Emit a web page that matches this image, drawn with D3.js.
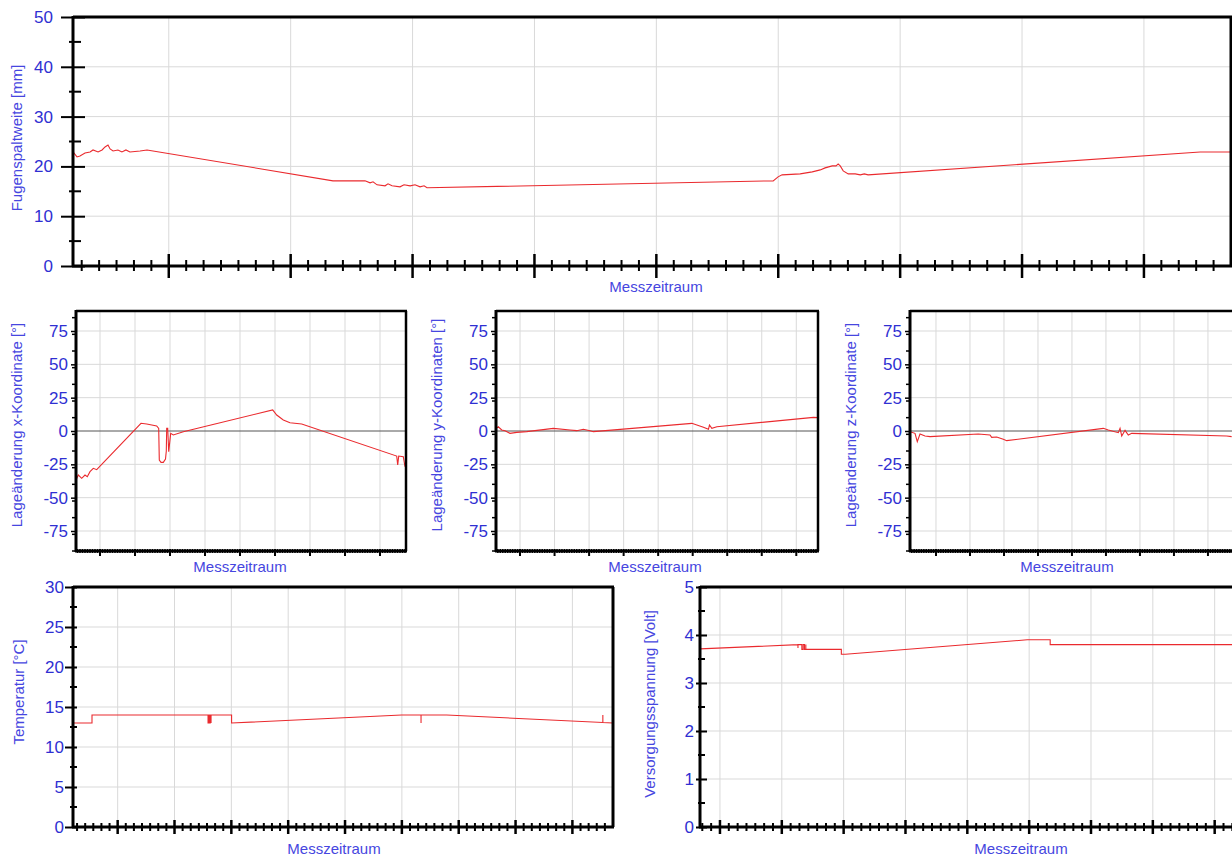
<!DOCTYPE html>
<html>
<head>
<meta charset="utf-8">
<script src="https://cdn.jsdelivr.net/npm/d3@7"></script>
<style>
body { margin: 0; background: #fff; }
svg { display: block; font-family: "Liberation Sans", Arial, sans-serif; }
</style>
</head>
<body>
<svg id="chart"></svg>
<script>
// Zeitachse in Tagen, t = 0 am ersten Hauptstrich (Wochenraster)
let gapTime = [-5.5, -5.27, -5.1, -4.81, -4.52, -4.35, -4.06, -3.83, -3.66, -3.49, -3.37, -3.2, -2.92, -2.69, -2.46, -2.23, -1.65, -1.25,
    9.43, 11.27, 11.56, 11.73, 11.96, 12.42, 12.59, 12.82, 13.28, 13.51, 13.86, 14.14, 14.43, 14.66, 14.83,
    34.71, 34.99, 35.22, 36.26, 36.95, 37.41, 37.69, 38.1, 38.32, 38.44, 38.56, 38.73, 39.02, 39.42, 39.71, 39.94, 40.16, 59.23, 61];
let gapValue = [22.9, 21.9, 22.1, 22.7, 22.9, 23.3, 22.9, 23.3, 23.9, 24.3, 23.5, 23.1, 23.3, 22.9, 23.3, 22.9, 23.1, 23.3,
    17.1, 17.1, 16.7, 16.9, 16.3, 16.1, 16.5, 16.1, 15.9, 16.3, 16.1, 16.3, 15.9, 16.1, 15.7,
    17.1, 17.9, 18.3, 18.5, 18.9, 19.3, 19.7, 20.1, 20.1, 20.5, 20.1, 19.1, 18.5, 18.5, 18.3, 18.5, 18.3, 22.9, 22.9];

let xTime = [-4.8, -4.34, -3.66, -3.0, -2.54, -2.0, -1.34, -0.66, 8.2, 9.34, 11.34, 11.74, 11.86, 12.2, 12.66, 13.1, 13.26, 13.34,
    13.54, 13.74, 14.14, 14.66, 16.66, 34.54, 35.34, 36.66, 38.0, 40.34, 59.34, 59.54, 59.74, 60.66, 61.0];
let xValue = [-36.8, -33, -35.5, -33, -34.3, -30.5, -28, -29, 5.8, 5.3, 3.8, 2, -21.8, -23.5, -23.5, -21, -15, 2,
    2, -15.5, -1.8, -3, -0.5, 15.8, 12, 8.3, 6.2, 5.3, -18.8, -25.5, -18.8, -19.3, -26.8];

let yTime = [-4.87, -4.4, -3.71, -3.04, -2.03, -0.67, 1.36, 6.75, 10.14, 11.5, 12.84, 14.2, 14.87, 34.83, 35.84, 37.18, 38.2, 38.4,
    38.88, 39.9, 59.49, 60.4];
let yValue = [2, 3.2, 0.75, 0.25, -1.75, -1, -0.5, 2, 0.75, 0.25, 1.25, 0.25, -0.5, 5.75, 4.5, 2.75, 1.25, 4.5,
    2, 3.2, 10.25, 10];

let zTime = [-5.35, -4.32, -3.85, -3.29, -2.26, -1.23, 8.71, 11.12, 11.47, 12.5, 13.86, 14.56, 34.45, 35.48, 37.54, 37.9, 38.25,
    38.93, 39.6, 40.3, 59.85, 60.88];
let zValue = [-0.5, -1.75, -8, -2.25, -3.75, -4.25, -2.25, -3, -4.75, -4.5, -6.25, -7.25, 2, 0.75, -1.25, 2, -3.75,
    0.5, -3, -1.75, -3.75, -4.25];

let tempTime = [-5.5, -3.16, -3.16, 11.13, 11.13, 11.22, 11.22, 11.31, 11.31, 11.4, 11.4, 11.5, 11.5, 11.5, 14.03, 14.03, 34.97,
    37.36, 37.36, 37.36, 40.51, 59.75, 59.75, 59.75, 61];
let tempValue = [13, 13, 14, 14, 13, 13, 14, 14, 13, 13, 14, 14, 13, 14, 14, 13, 14,
    14, 13, 14, 14, 13.06, 14, 13.06, 13];

let voltTime = [-2.26, 8.83, 8.83, 8.83, 9.27, 9.27, 9.42, 9.42, 9.57, 9.57, 9.72, 9.72, 9.72, 13.74, 13.74, 14.2, 34.78, 37.38,
    37.38, 64];
let voltValue = [3.71, 3.8, 3.73, 3.8, 3.8, 3.7, 3.7, 3.8, 3.8, 3.7, 3.7, 3.8, 3.7, 3.7, 3.6, 3.6, 3.9, 3.9,
    3.8, 3.8];

let gapTicks = [0, 10, 20, 30, 40, 50];
let angleTicks = [-75, -50, -25, 0, 25, 50, 75];
let tempTicks = [0, 5, 10, 15, 20, 25, 30];
let voltTicks = [0, 1, 2, 3, 4, 5];

let xTitle = 'Messzeitraum';

let width = 1232;
let height = 859;

let labelBlue = '#2f2fd2';
let titleBlue = '#4646e0';
let lineRed = '#ea2a2e';
let gridGrey = '#d9d9d9';

let svg = d3.select('#chart').attr('width', width).attr('height', height);

let drawChart = (c) => {
    let g = svg.append('g');
    let x = d3.scaleLinear().domain(c.xDomain).range([c.left, c.right]);
    let y = d3.scaleLinear().domain(c.yDomain).range([c.bottom, c.top]);

    let xMajor = d3.range(0, c.xDomain[1], 7);
    let xMinor = d3.range(Math.ceil(c.xDomain[0] / c.xStep) * c.xStep, c.xDomain[1], c.xStep)
        .filter((t) => Math.abs(t / 7 - Math.round(t / 7)) > 1e-6);
    let yMinor = d3.range(c.yDomain[0], c.yDomain[1] + 1e-6, c.yStep)
        .filter((v) => !c.yTicks.includes(v));

    // Raster
    g.append('g').selectAll('line').data(xMajor).join('line')
        .attr('x1', (d) => x(d)).attr('x2', (d) => x(d))
        .attr('y1', c.top).attr('y2', c.bottom)
        .attr('stroke', gridGrey).attr('stroke-width', 1);
    g.append('g').selectAll('line')
        .data(c.yTicks.filter((v) => v > c.yDomain[0] && v < c.yDomain[1] && !(c.zeroLine && v === 0)))
        .join('line')
        .attr('x1', c.left).attr('x2', c.right)
        .attr('y1', (d) => y(d)).attr('y2', (d) => y(d))
        .attr('stroke', gridGrey).attr('stroke-width', 1);
    if (c.zeroLine) {
        g.append('line')
            .attr('x1', c.left).attr('x2', c.right)
            .attr('y1', y(0)).attr('y2', y(0))
            .attr('stroke', '#555').attr('stroke-width', 1);
    }

    // Messreihe
    let line = d3.line().x((d) => x(d[0])).y((d) => y(d[1]));
    g.append('path')
        .datum(d3.zip(c.time, c.values))
        .attr('d', line)
        .attr('fill', 'none')
        .attr('stroke', lineRed)
        .attr('stroke-width', 1.1);

    // Rahmen oben / rechts
    g.append('line').attr('x1', c.left).attr('x2', c.right + 1).attr('y1', c.top).attr('y2', c.top)
        .attr('stroke', '#000').attr('stroke-width', c.frameWidth);
    g.append('line').attr('x1', c.right).attr('x2', c.right).attr('y1', c.top).attr('y2', c.bottom)
        .attr('stroke', '#000').attr('stroke-width', c.frameWidth);

    // y-Achse
    let yAxis = d3.axisLeft(y)
        .tickValues(c.yTicks)
        .tickSize(c.yMaj[0])
        .tickPadding(c.yPad)
        .tickFormat((d) => String(d));
    let ya = g.append('g').attr('transform', `translate(${c.left},0)`).call(yAxis);
    ya.select('.domain').remove();
    ya.selectAll('.tick line')
        .attr('x1', c.yMaj[1]).attr('x2', -c.yMaj[0])
        .attr('stroke', '#000').attr('stroke-width', c.tickWidth);
    ya.selectAll('.tick text')
        .attr('fill', labelBlue)
        .style('font-size', c.tickFont + 'px');
    g.append('g').selectAll('line').data(yMinor).join('line')
        .attr('x1', c.left - c.yMin[0]).attr('x2', c.left + c.yMin[1])
        .attr('y1', (d) => y(d)).attr('y2', (d) => y(d))
        .attr('stroke', '#000').attr('stroke-width', c.tickWidth);

    // x-Achse
    g.append('g').selectAll('line').data(xMinor).join('line')
        .attr('x1', (d) => x(d)).attr('x2', (d) => x(d))
        .attr('y1', c.bottom - c.xMin[0]).attr('y2', c.bottom + c.xMin[1])
        .attr('stroke', '#000').attr('stroke-width', c.tickWidth);
    g.append('g').selectAll('line').data(xMajor).join('line')
        .attr('x1', (d) => x(d)).attr('x2', (d) => x(d))
        .attr('y1', c.bottom - c.xMaj[0]).attr('y2', c.bottom + c.xMaj[1])
        .attr('stroke', '#000').attr('stroke-width', c.tickWidth + 0.5);

    g.append('line').attr('x1', c.left).attr('x2', c.left).attr('y1', c.top - 1).attr('y2', c.bottom + 1)
        .attr('stroke', '#000').attr('stroke-width', c.axisWidth);
    g.append('line').attr('x1', c.left - 1).attr('x2', c.right + 1).attr('y1', c.bottom).attr('y2', c.bottom)
        .attr('stroke', '#000').attr('stroke-width', c.axisWidth);

    // Beschriftung
    g.append('text')
        .attr('x', c.xTitlePos[0]).attr('y', c.xTitlePos[1])
        .attr('text-anchor', 'middle')
        .attr('dominant-baseline', 'middle')
        .attr('fill', titleBlue)
        .style('font-size', '15px')
        .text(xTitle);
    g.append('text')
        .attr('transform', `translate(${c.yTitlePos[0]},${c.yTitlePos[1]}) rotate(-90)`)
        .attr('text-anchor', 'middle')
        .attr('dominant-baseline', 'middle')
        .attr('fill', titleBlue)
        .style('font-size', c.yTitleFont + 'px')
        .text(c.yTitle);
};

let charts = [
    {
        left: 73, right: 1231, top: 17, bottom: 266,
        xDomain: [-5.5, 61], yDomain: [0, 50], yTicks: gapTicks, yStep: 5, xStep: 1,
        time: gapTime, values: gapValue,
        yMaj: [12, 12], yMin: [4, 8], xMaj: [12, 12], xMin: [6, 5], yPad: 8,
        tickFont: 17, tickWidth: 2, axisWidth: 3, frameWidth: 3,
        yTitle: 'Fugenspaltweite [mm]', yTitleFont: 15, yTitlePos: [18, 138], xTitlePos: [656, 288]
    },
    {
        left: 76, right: 406, top: 311, bottom: 551,
        xDomain: [-4.8, 61.2], yDomain: [-90, 90], yTicks: angleTicks, yStep: 12.5, xStep: 0.5,
        time: xTime, values: xValue, zeroLine: true,
        yMaj: [5, 0], yMin: [4, 0], xMaj: [2, 5], xMin: [2, 2], yPad: 3,
        tickFont: 17, tickWidth: 1.5, axisWidth: 3, frameWidth: 2.5,
        yTitle: 'Lageänderung x-Koordinate [°]', yTitleFont: 15, yTitlePos: [18, 425], xTitlePos: [240, 568]
    },
    {
        left: 496, right: 818, top: 311, bottom: 551,
        xDomain: [-4.87, 60.4], yDomain: [-90, 90], yTicks: angleTicks, yStep: 12.5, xStep: 0.5,
        time: yTime, values: yValue, zeroLine: true,
        yMaj: [5, 0], yMin: [4, 0], xMaj: [2, 5], xMin: [2, 2], yPad: 3,
        tickFont: 17, tickWidth: 1.5, axisWidth: 3, frameWidth: 2.5,
        yTitle: 'Lageänderung y-Koordinaten [°]', yTitleFont: 15, yTitlePos: [438, 425], xTitlePos: [655, 568]
    },
    {
        left: 910, right: 1240, top: 311, bottom: 551,
        xDomain: [-5.35, 62.6], yDomain: [-90, 90], yTicks: angleTicks, yStep: 12.5, xStep: 0.5,
        time: zTime, values: zValue, zeroLine: true,
        yMaj: [5, 0], yMin: [4, 0], xMaj: [2, 5], xMin: [2, 2], yPad: 3,
        tickFont: 17, tickWidth: 1.5, axisWidth: 3, frameWidth: 2.5,
        yTitle: 'Lageänderung z-Koordinate [°]', yTitleFont: 15, yTitlePos: [852, 425], xTitlePos: [1067, 568]
    },
    {
        left: 73, right: 613, top: 587, bottom: 827,
        xDomain: [-5.5, 61], yDomain: [0, 30], yTicks: tempTicks, yStep: 2.5, xStep: 1,
        time: tempTime, values: tempValue,
        yMaj: [8, 4], yMin: [3, 4], xMaj: [7, 7], xMin: [4, 4], yPad: 1,
        tickFont: 17, tickWidth: 2, axisWidth: 3, frameWidth: 3,
        yTitle: 'Temperatur [°C]', yTitleFont: 15, yTitlePos: [20, 692], xTitlePos: [334, 850]
    },
    {
        left: 700, right: 1288, top: 587, bottom: 827,
        xDomain: [-2.26, 64.3], yDomain: [0, 5], yTicks: voltTicks, yStep: 0.5, xStep: 1,
        time: voltTime, values: voltValue,
        yMaj: [4, 7], yMin: [2, 5], xMaj: [7, 7], xMin: [4, 4], yPad: 2,
        tickFont: 17, tickWidth: 2, axisWidth: 3, frameWidth: 3,
        yTitle: 'Versorgungsspannung [Volt]', yTitleFont: 15, yTitlePos: [651, 704], xTitlePos: [1021, 850]
    }
];

charts.forEach((c) => drawChart(c));
</script>
</body>
</html>
